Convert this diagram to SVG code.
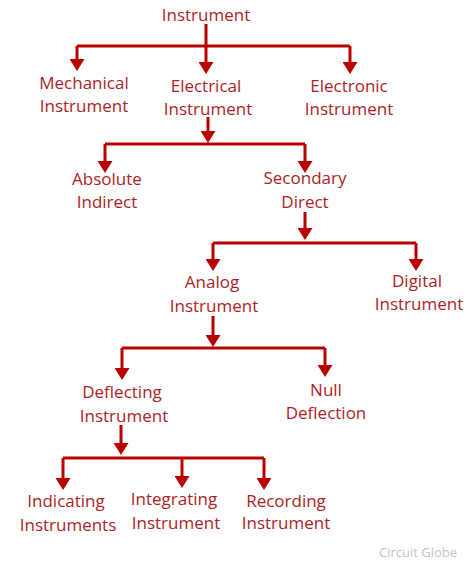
<svg xmlns="http://www.w3.org/2000/svg" width="471" height="570" viewBox="0 0 471 570">
<defs>
<marker id="ah" viewBox="0 0 12 15" refX="1" refY="7.5" markerWidth="12" markerHeight="15" markerUnits="userSpaceOnUse" orient="auto">
<path d="M0,0 L12,7.5 L0,15 z" fill="#B80000"/>
</marker>
<style>
.t{font-family:"Open Sans","Liberation Sans",sans-serif;font-size:17px;fill:#AC1E28;text-anchor:middle}
.c{fill:none;stroke:#B80000;stroke-width:3}
.a{marker-end:url(#ah)}
.w{font-family:"Open Sans","Liberation Sans",sans-serif;font-size:13px;fill:#C4C4C4;text-anchor:middle}
</style>
</defs>
<rect width="471" height="570" fill="#ffffff"/>
<g id="connectors">
<path class="c" d="M206,24 V46 M77,46 H350 M105,144 H305 M213,243 H416 M122,348 H325 M63,458 H264"/>
<path class="c a" d="M77,46 V60"/>
<path class="c a" d="M206,46 V63"/>
<path class="c a" d="M350,46 V63"/>
<path class="c a" d="M208,117 V132"/>
<path class="c a" d="M105,144 V162"/>
<path class="c a" d="M305,144 V162"/>
<path class="c a" d="M305,212 V229"/>
<path class="c a" d="M213,243 V260"/>
<path class="c a" d="M416,243 V260"/>
<path class="c a" d="M213,316 V336"/>
<path class="c a" d="M122,348 V369"/>
<path class="c a" d="M325,348 V366"/>
<path class="c a" d="M121,425 V444"/>
<path class="c a" d="M63,458 V479"/>
<path class="c a" d="M182,458 V477"/>
<path class="c a" d="M264,458 V479"/>
</g>
<g id="instrument"><text class="t" x="206" y="21">Instrument</text></g>
<g id="mechanical"><text class="t" x="84" y="89">Mechanical</text><text class="t" x="84" y="112">Instrument</text></g>
<g id="electrical"><text class="t" x="206" y="92">Electrical</text><text class="t" x="208" y="115">Instrument</text></g>
<g id="electronic"><text class="t" x="349" y="92">Electronic</text><text class="t" x="349" y="115">Instrument</text></g>
<g id="absolute"><text class="t" x="107" y="185">Absolute</text><text class="t" x="107" y="208">Indirect</text></g>
<g id="secondary"><text class="t" x="305" y="184">Secondary</text><text class="t" x="305" y="208">Direct</text></g>
<g id="analog"><text class="t" x="212" y="288">Analog</text><text class="t" x="214" y="312">Instrument</text></g>
<g id="digital"><text class="t" x="417" y="287">Digital</text><text class="t" x="419" y="310">Instrument</text></g>
<g id="deflecting"><text class="t" x="122" y="398">Deflecting</text><text class="t" x="124" y="422">Instrument</text></g>
<g id="null"><text class="t" x="326" y="396">Null</text><text class="t" x="326" y="419">Deflection</text></g>
<g id="indicating"><text class="t" x="66" y="507">Indicating</text><text class="t" x="68" y="531">Instruments</text></g>
<g id="integrating"><text class="t" x="174" y="505">Integrating</text><text class="t" x="176" y="529">Instrument</text></g>
<g id="recording"><text class="t" x="286" y="507">Recording</text><text class="t" x="286" y="529">Instrument</text></g>
<text class="w" x="418" y="557">Circuit Globe</text>
</svg>
